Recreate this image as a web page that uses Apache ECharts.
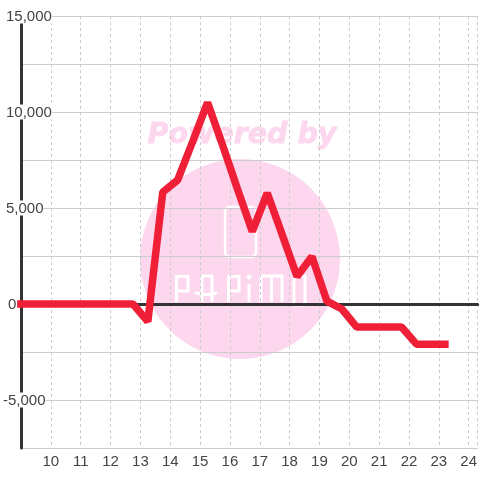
<!DOCTYPE html>
<html>
<head>
<meta charset="utf-8">
<style>html,body{margin:0;padding:0;background:#fff}#chart{width:480px;height:480px}</style>
<script src="https://cdn.jsdelivr.net/npm/echarts@6/dist/echarts.min.js"></script>
</head>
<body>
<div id="chart"></div>
<script>
const hours = [8.87, 9.25, 9.75, 10.25, 10.75, 11.25, 11.75, 12.25, 12.75, 13.25, 13.75, 14.25, 14.75, 15.25, 15.75, 16.25, 16.75, 17.25, 17.75, 18.25, 18.75, 19.25, 19.75, 20.25, 20.75, 21.25, 21.75, 22.25, 22.75, 23.33];
const values = [0, 0, 0, 0, 0, 0, 0, 0, 0, -910, 5830, 6460, 8450, 10490, 8300, 6000, 3780, 5780, 3620, 1430, 2470, 150, -260, -1200, -1200, -1200, -1200, -2090, -2090, -2090];
const xTicks = [10, 11, 12, 13, 14, 15, 16, 17, 18, 19, 20, 21, 22, 23, 24];
const yLabels = { '15000': '{a|15,000}', '10000': '{a|10,000}', '5000': '{a|5,000}', '0': '{z|0}', '-5000': '{n|-5,000}' };

const chart = echarts.init(document.getElementById('chart'));
const font = '"Liberation Sans", Arial, sans-serif';
const pink = '#fcd7ee';
const labelText = { fontFamily: font, fontSize: 15, color: '#444', lineHeight: 15 };

// watermark logo letters, one polyline per stroke
const logoStrokes = [
    [[176.5, 302], [176.5, 276.5], [188, 276.5], [188, 291], [176.5, 291]],
    [[202, 302], [202, 276], [212, 276], [212, 302]],
    [[195, 292.5], [202, 294.5], [212, 294.5], [217, 292.5]],
    [[228.5, 302], [228.5, 276.5], [239, 276.5], [239, 291], [228.5, 291]],
    [[249, 284], [249, 302]],
    [[261, 302], [261, 276], [282, 276], [282, 302]],
    [[271.5, 276], [271.5, 302]],
    [[294, 276], [305, 276], [305, 305], [294, 305], [294, 276]]
];

chart.setOption({
    animation: false,
    backgroundColor: '#fff',
    grid: { left: 21, right: 0, top: 16, bottom: 32 },
    graphic: [
        { type: 'circle', z: -10, shape: { cx: 240, cy: 259, r: 100 }, style: { fill: pink } },
        { type: 'rect', z: -9, shape: { x: 225, y: 207, width: 31, height: 50, r: 5 }, style: { fill: 'none', stroke: '#fff', lineWidth: 2.5 } },
        ...logoStrokes.map(points => ({ type: 'polyline', z: -9, shape: { points }, style: { fill: 'none', stroke: '#fff', lineWidth: 3 } })),
        { type: 'circle', z: -9, shape: { cx: 249, cy: 277, r: 2.5 }, style: { fill: '#fff' } },
        { type: 'text', z: -9, x: 242, y: 136, style: { text: 'Powered by', font: 'italic bold 28.5px "DejaVu Sans", sans-serif', fill: pink, stroke: pink, lineWidth: 0.8, align: 'center', verticalAlign: 'middle' } }
    ],
    xAxis: {
        type: 'value',
        min: 9,
        max: 24.3,
        interval: 1,
        axisLine: { onZero: true, lineStyle: { color: '#333', width: 3 } },
        axisTick: { show: false },
        axisLabel: {
            fontFamily: font, fontSize: 15, color: '#444', margin: 6,
            customValues: xTicks,
            position: 'bottom'
        },
        splitLine: { show: true, lineStyle: { color: '#ccc', width: 1, type: [3, 3] } }
    },
    yAxis: {
        type: 'value',
        min: -7500,
        max: 15000,
        interval: 2500,
        axisLine: { show: true, onZero: false, lineStyle: { color: '#333', width: 3 } },
        axisTick: { show: false },
        axisLabel: {
            fontFamily: font, fontSize: 15, color: '#444',
            align: 'left', margin: 18,
            backgroundColor: '#fff',
            formatter: v => yLabels[v] || '',
            rich: {
                a: { ...labelText, padding: [2, 0, 0, 3] },
                z: { ...labelText, padding: [2, 0, 0, 5] },
                n: { ...labelText, padding: [2, 0, 0, 0] }
            }
        },
        splitLine: { show: true, lineStyle: { color: '#ccc', width: 1 } }
    },
    series: [{
        type: 'line',
        data: hours.map((h, i) => [h, values[i]]),
        clip: false,
        showSymbol: false,
        lineStyle: { color: '#f01f38', width: 7.5, join: 'bevel', cap: 'butt' },
        z: 5
    }]
});
</script>
</body>
</html>
